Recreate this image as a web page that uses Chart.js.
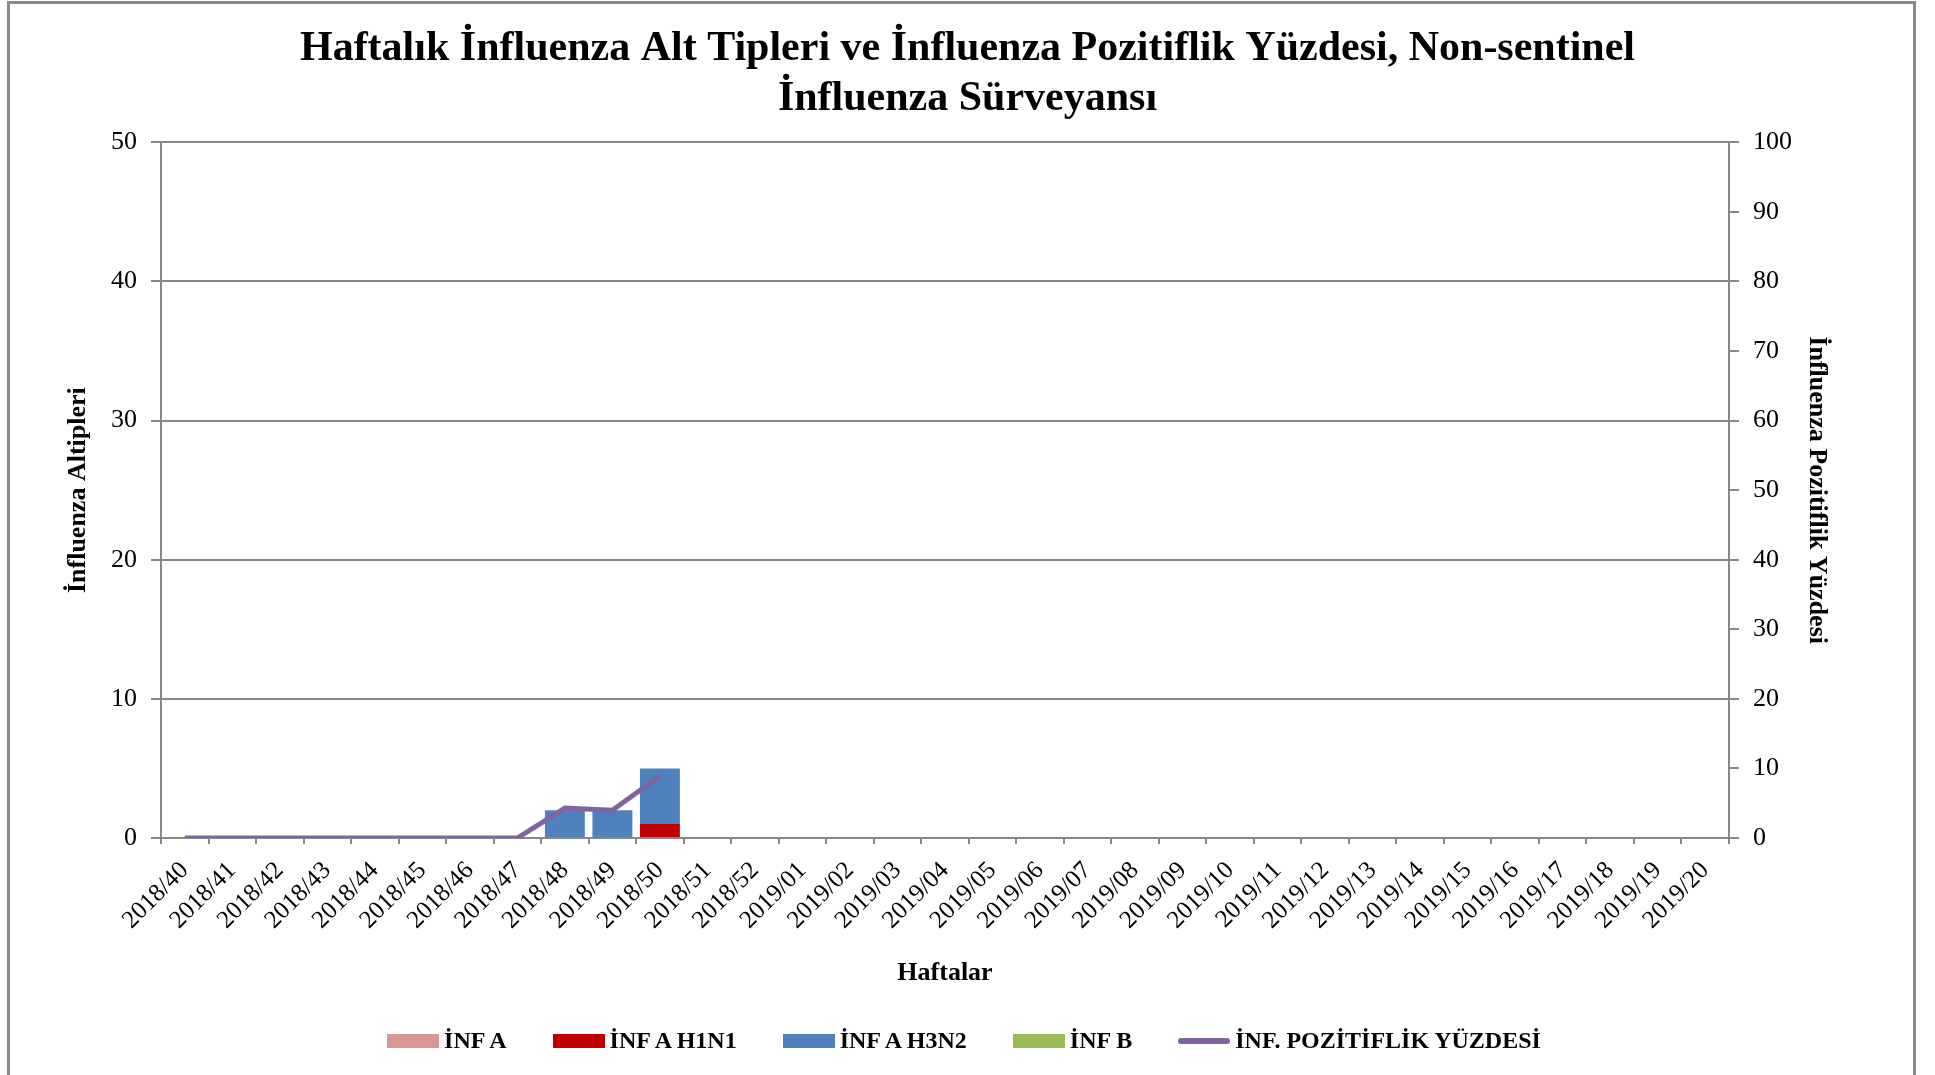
<!DOCTYPE html>
<html>
<head>
<meta charset="utf-8">
<script src="https://cdn.jsdelivr.net/npm/chart.js@4.4.0/dist/chart.umd.min.js"></script>
<style>
  html, body { margin: 0; padding: 0; background: #fff; }
  #wrap { position: relative; width: 1935px; height: 1075px; overflow: hidden; }
  #frame { position: absolute; left: 7px; top: 1px; width: 1909px; height: 1100px;
           border: 3px solid #8a8a8a; box-sizing: border-box; pointer-events: none; }
  #legend { position: absolute; left: 0; top: 1027px; width: 1928px; display: flex;
            justify-content: center; gap: 46px; font: bold 24px 'Liberation Serif', serif; }
  .item { display: flex; align-items: center; gap: 5px; }
  .box { width: 52px; height: 14px; }
  .line { width: 52px; height: 6px; border-radius: 3px; }
</style>
</head>
<body>
<div id="wrap">
  <canvas id="chart" width="1935" height="1075"></canvas>
  <div id="frame"></div>
  <div id="legend"></div>
</div>
<script>
const weeks = ['2018/40','2018/41','2018/42','2018/43','2018/44','2018/45','2018/46','2018/47',
  '2018/48','2018/49','2018/50','2018/51','2018/52','2019/01','2019/02','2019/03','2019/04',
  '2019/05','2019/06','2019/07','2019/08','2019/09','2019/10','2019/11','2019/12','2019/13',
  '2019/14','2019/15','2019/16','2019/17','2019/18','2019/19','2019/20'];

const infA     = [0,0,0,0,0,0,0,0,0,0,0];
const infH1N1  = [0,0,0,0,0,0,0,0,0,0,1];
const infH3N2  = [0,0,0,0,0,0,0,0,2,2,4];
const infB     = [0,0,0,0,0,0,0,0,0,0,0];
const positivity = [0,0,0,0,0,0,0,0,4.3,4.0,8.9];

const colors = {
  a: '#D99694',
  h1n1: '#C00000',
  h3n2: '#4F81BD',
  b: '#9BBB59',
  pos: '#8064A2'
};

const serif = "'Liberation Serif', 'Times New Roman', serif";
const gridGray = '#878787';

function bar(label, data, color) {
  return {
    type: 'bar',
    label: label,
    data: data,
    backgroundColor: color,
    borderWidth: 0,
    yAxisID: 'y',
    stack: 'tipler',
    order: 2,
    categoryPercentage: 0.84,
    barPercentage: 1.0
  };
}

const ctx = document.getElementById('chart').getContext('2d');
new Chart(ctx, {
  data: {
    labels: weeks,
    datasets: [
      bar('İNF A', infA, colors.a),
      bar('İNF A H1N1', infH1N1, colors.h1n1),
      bar('İNF A H3N2', infH3N2, colors.h3n2),
      bar('İNF B', infB, colors.b),
      {
        type: 'line',
        label: 'İNF. POZİTİFLİK YÜZDESİ',
        data: positivity,
        borderColor: colors.pos,
        backgroundColor: colors.pos,
        borderWidth: 5,
        pointRadius: 0,
        tension: 0,
        yAxisID: 'y1',
        order: 1
      }
    ]
  },
  options: {
    responsive: false,
    animation: false,
    layout: { padding: { left: 0, right: 0, top: 0, bottom: 77 } },
    plugins: {
      legend: { display: false },
      tooltip: { enabled: false },
      title: {
        display: true,
        text: ['Haftalık İnfluenza Alt Tipleri ve İnfluenza Pozitiflik Yüzdesi, Non-sentinel',
               'İnfluenza Sürveyansı'],
        color: '#000',
        font: { family: serif, size: 42, weight: 'bold', lineHeight: 1.17 },
        padding: { top: 25, bottom: 19 }
      }
    },
    scales: {
      x: {
        stacked: true,
        offset: true,
        grid: { offset: true, drawOnChartArea: false, drawTicks: true, tickLength: 6,
                color: gridGray, lineWidth: 2 },
        border: { color: gridGray, width: 2 },
        ticks: { color: '#000', font: { family: serif, size: 25 }, maxRotation: 45,
                 minRotation: 45, autoSkip: false, padding: 12 },
        title: { display: true, text: 'Haftalar', color: '#000',
                 font: { family: serif, size: 26, weight: 'bold' }, padding: { top: 4, bottom: 9 } },
        afterFit: function (s) { s.height = 160; }
      },
      y: {
        position: 'left',
        stacked: true,
        min: 0,
        max: 50,
        ticks: { stepSize: 10, color: '#000', font: { family: serif, size: 26 }, padding: 14 },
        grid: { color: gridGray, lineWidth: 2, tickLength: 10 },
        border: { color: gridGray, width: 2 },
        title: { display: true, text: 'İnfluenza Altipleri', color: '#000',
                 font: { family: serif, size: 26, weight: 'bold' }, padding: { top: 63, bottom: 4 } },
        afterFit: function (s) { s.width = 161; }
      },
      y1: {
        position: 'right',
        min: 0,
        max: 100,
        ticks: { stepSize: 10, color: '#000', font: { family: serif, size: 26 }, padding: 14 },
        grid: { drawOnChartArea: false, color: gridGray, lineWidth: 2, tickLength: 10 },
        border: { color: gridGray, width: 2 },
        title: { display: true, text: 'İnfluenza Pozitiflik Yüzdesi', color: '#000',
                 font: { family: serif, size: 26, weight: 'bold' }, padding: { top: 103, bottom: 4 } },
        afterFit: function (s) { s.width = 206; }
      }
    }
  }
});

// legend in Excel style
const legendItems = [
  { label: 'İNF A', color: colors.a, kind: 'box' },
  { label: 'İNF A H1N1', color: colors.h1n1, kind: 'box' },
  { label: 'İNF A H3N2', color: colors.h3n2, kind: 'box' },
  { label: 'İNF B', color: colors.b, kind: 'box' },
  { label: 'İNF. POZİTİFLİK YÜZDESİ', color: colors.pos, kind: 'line' }
];
const legendEl = document.getElementById('legend');
legendItems.forEach(function (it) {
  const item = document.createElement('div');
  item.className = 'item';
  const sw = document.createElement('span');
  sw.className = it.kind;
  sw.style.background = it.color;
  const txt = document.createElement('span');
  txt.textContent = it.label;
  item.appendChild(sw);
  item.appendChild(txt);
  legendEl.appendChild(item);
});
</script>
</body>
</html>
